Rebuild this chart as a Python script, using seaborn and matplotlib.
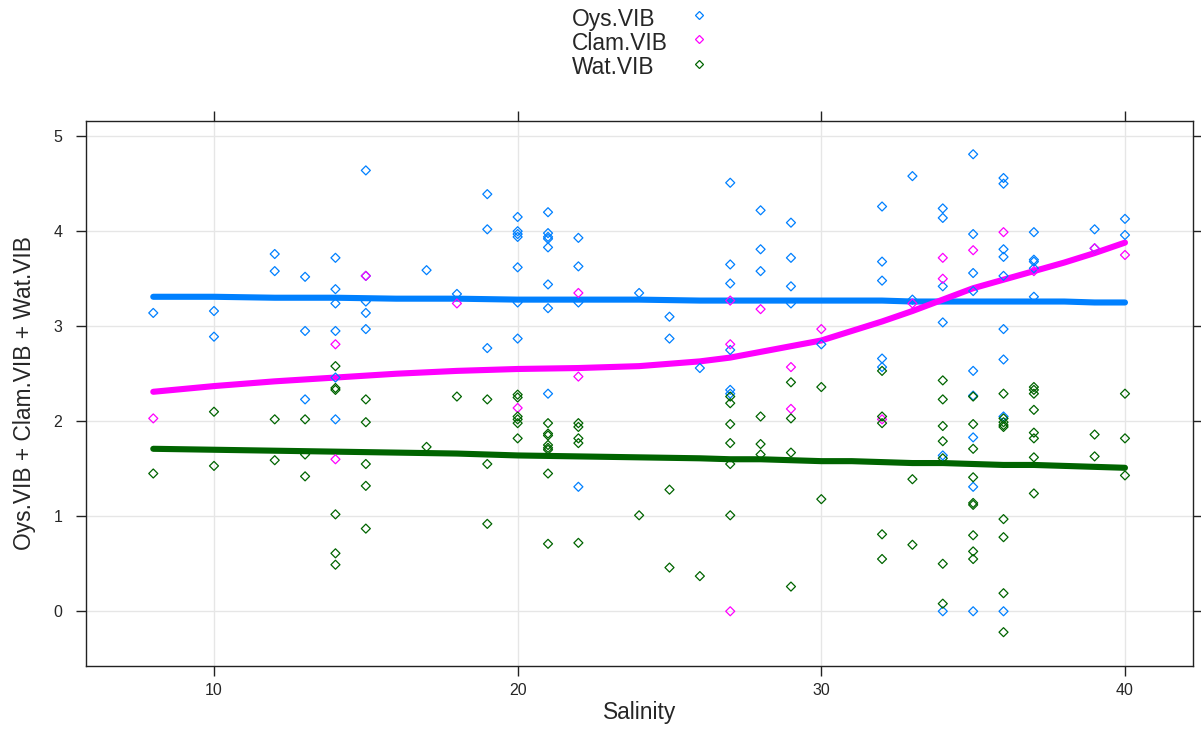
import pandas as pd
import numpy as np
import seaborn as sns
import matplotlib.pyplot as plt
from matplotlib.lines import Line2D

# salinity / value pairs
oys_sal = [8, 10, 10, 12, 12, 13, 13, 13, 14, 14, 14, 14, 14, 14, 15, 15, 15, 15, 15,
           17, 18, 19, 19, 19, 20, 20, 20, 20, 20, 20, 20, 21, 21, 21, 21, 21, 21, 21, 21,
           22, 22, 22, 22, 24, 25, 25, 26, 27, 27, 27, 27, 27, 27, 28, 28, 28, 29, 29, 29, 29,
           30, 32, 32, 32, 32, 32, 33, 33, 34, 34, 34, 34, 34, 34,
           35, 35, 35, 35, 35, 35, 35, 35, 35, 36, 36, 36, 36, 36, 36, 36, 36, 36,
           37, 37, 37, 37, 37, 39, 39, 40, 40]
oys_vib = [3.14, 3.16, 2.89, 3.76, 3.58, 3.52, 2.95, 2.23, 3.72, 3.39, 3.24, 2.95, 2.46, 2.02,
           4.64, 3.53, 3.26, 3.14, 2.97, 3.59, 3.34, 4.39, 4.02, 2.77,
           4.15, 4.00, 3.97, 3.94, 3.62, 3.25, 2.87, 4.20, 3.98, 3.94, 3.92, 3.83, 3.44, 3.19, 2.29,
           3.93, 3.63, 3.25, 1.31, 3.35, 3.10, 2.87, 2.56, 4.51, 3.65, 3.45, 2.75, 2.33, 2.29,
           4.22, 3.81, 3.58, 4.09, 3.72, 3.42, 3.24, 2.81, 4.26, 3.68, 3.48, 2.66, 2.57, 4.58, 3.28,
           4.24, 4.14, 3.42, 3.04, 1.64, 0.00,
           4.81, 3.97, 3.56, 3.37, 2.53, 2.27, 1.83, 1.31, 0.00,
           4.56, 4.50, 3.81, 3.73, 3.53, 2.97, 2.65, 2.05, 0.00,
           3.99, 3.70, 3.68, 3.61, 3.31, 4.02, 3.82, 4.13, 3.96]

clam_sal = [8, 14, 14, 15, 18, 20, 22, 22, 27, 27, 27, 28, 29, 29, 30, 32, 33, 34, 34,
            35, 36, 37, 39, 40]
clam_vib = [2.03, 2.81, 1.60, 3.53, 3.24, 2.14, 3.35, 2.47, 3.27, 2.81, 0.00, 3.18, 2.57, 2.13,
            2.97, 2.02, 3.24, 3.72, 3.50, 3.80, 3.99, 3.58, 3.82, 3.75]

wat_sal = [8, 10, 10, 12, 12, 13, 13, 13, 14, 14, 14, 14, 14, 14, 15, 15, 15, 15, 15,
           17, 18, 19, 19, 19, 20, 20, 20, 20, 20, 20, 21, 21, 21, 21, 21, 21, 21, 21,
           22, 22, 22, 22, 22, 24, 25, 25, 26, 27, 27, 27, 27, 27, 27, 28, 28, 28,
           29, 29, 29, 29, 30, 30, 32, 32, 32, 32, 32, 33, 33,
           34, 34, 34, 34, 34, 34, 34, 35, 35, 35, 35, 35, 35, 35, 35, 35,
           36, 36, 36, 36, 36, 36, 36, 36, 36, 37, 37, 37, 37, 37, 37, 37, 37,
           39, 39, 40, 40, 40]
wat_vib = [1.45, 2.10, 1.53, 2.02, 1.59, 2.02, 1.65, 1.42, 2.58, 2.35, 2.33, 1.02, 0.61, 0.49,
           2.23, 1.99, 1.55, 1.32, 0.87, 1.73, 2.26, 2.23, 1.55, 0.92,
           2.28, 2.25, 2.05, 2.02, 1.98, 1.82, 1.98, 1.87, 1.85, 1.75, 1.72, 1.70, 1.45, 0.71,
           1.98, 1.94, 1.82, 1.77, 0.72, 1.01, 1.28, 0.46, 0.37, 2.26, 2.19, 1.97, 1.77, 1.55, 1.01,
           2.05, 1.76, 1.65, 2.41, 2.03, 1.67, 0.26, 2.36, 1.18, 2.53, 2.05, 1.98, 0.81, 0.55,
           1.39, 0.70, 2.43, 2.23, 1.95, 1.79, 1.61, 0.50, 0.08,
           2.26, 1.97, 1.71, 1.41, 1.14, 1.12, 0.80, 0.63, 0.55,
           2.29, 2.03, 1.99, 1.96, 1.94, 0.97, 0.78, 0.19, -0.22,
           2.36, 2.33, 2.29, 2.12, 1.88, 1.82, 1.62, 1.24, 1.86, 1.63, 2.29, 1.82, 1.43]

# smoothed curves
smooth_sal = [8, 10, 12, 14, 16, 18, 20, 22, 24, 26, 27, 28, 29, 30, 31, 32, 33, 34, 35, 36, 37, 38, 39, 40]
oys_smooth = [3.31, 3.31, 3.30, 3.30, 3.29, 3.29, 3.28, 3.28, 3.28, 3.27, 3.27, 3.27, 3.27, 3.27,
              3.27, 3.27, 3.26, 3.26, 3.26, 3.26, 3.26, 3.26, 3.25, 3.25]
clam_smooth = [2.31, 2.37, 2.42, 2.46, 2.50, 2.53, 2.55, 2.56, 2.58, 2.63, 2.67, 2.73, 2.79, 2.85,
               2.95, 3.05, 3.16, 3.28, 3.40, 3.49, 3.58, 3.67, 3.77, 3.88]
wat_smooth = [1.71, 1.70, 1.69, 1.68, 1.67, 1.66, 1.64, 1.63, 1.62, 1.61, 1.60, 1.60, 1.59, 1.58,
              1.58, 1.57, 1.56, 1.56, 1.55, 1.54, 1.54, 1.53, 1.52, 1.51]

groups = ["Oys.VIB", "Clam.VIB", "Wat.VIB"]
colors = ["#0080ff", "#ff00ff", "#006400"]

pts = pd.concat([
    pd.DataFrame({"Salinity": oys_sal, "value": oys_vib, "group": "Oys.VIB"}),
    pd.DataFrame({"Salinity": clam_sal, "value": clam_vib, "group": "Clam.VIB"}),
    pd.DataFrame({"Salinity": wat_sal, "value": wat_vib, "group": "Wat.VIB"}),
])
smooth = pd.concat([
    pd.DataFrame({"Salinity": smooth_sal, "value": oys_smooth, "group": "Oys.VIB"}),
    pd.DataFrame({"Salinity": smooth_sal, "value": clam_smooth, "group": "Clam.VIB"}),
    pd.DataFrame({"Salinity": smooth_sal, "value": wat_smooth, "group": "Wat.VIB"}),
])

sns.set_style("white")
plt.rcParams['font.family'] = ['Liberation Sans', 'DejaVu Sans']

W, H = 1201, 756
fig = plt.figure(figsize=(W / 100, H / 100), dpi=100)
ax_l, ax_r, ax_t, ax_b = 86, 1193, 121, 666
ax = fig.add_axes([ax_l / W, 1 - ax_b / H, (ax_r - ax_l) / W, (ax_b - ax_t) / H])

sns.lineplot(data=smooth, x="Salinity", y="value", hue="group", hue_order=groups,
             palette=colors, linewidth=4.4, legend=False, ax=ax, zorder=2)
for g, c in zip(groups, colors):
    sub = pts[pts["group"] == g]
    sns.scatterplot(data=sub, x="Salinity", y="value", marker="D", s=21,
                    color=c, linewidth=0.9, ax=ax, zorder=3)
    coll = ax.collections[-1]
    coll.set_facecolor("none")
    coll.set_edgecolor(c)

ax.set_xlim(5.785, 42.24)
ax.set_ylim(-0.576, 5.16)
ax.set_xticks([10, 20, 30, 40])
ax.set_yticks([0, 1, 2, 3, 4, 5])
ax.grid(True, color="#e6e6e6", linewidth=1)
ax.set_axisbelow(True)
for sp in ax.spines.values():
    sp.set_color("#222222")
    sp.set_linewidth(1)
ax.tick_params(direction="out", length=7, width=1, color="#222222", labelsize=11.5,
               top=True, right=True, labeltop=False, labelright=False, left=True, bottom=True)
ax.tick_params(axis="x", pad=5)
ax.tick_params(axis="y", pad=10)
ax.set_xlabel("Salinity", fontsize=16.4)
ax.set_ylabel("Oys.VIB + Clam.VIB + Wat.VIB", fontsize=16.4)
ax.xaxis.set_label_coords(0.5, (ax_b - 701) / (ax_b - ax_t))
ax.yaxis.set_label_coords((36 - ax_l) / (ax_r - ax_l), 0.5)

# key above the panel: text then symbol, as lattice draws it
for i, (g, c) in enumerate(zip(groups, colors)):
    fig.text(572 / W, 1 - (26 + 24 * i) / H, g, fontsize=16.4, ha="left", va="baseline")
    fig.add_artist(Line2D([699 / W], [1 - (15 + 24.3 * i) / H], transform=fig.transFigure,
                          marker="D", markersize=4.4, linestyle="none", markerfacecolor="none",
                          markeredgecolor=c, markeredgewidth=0.9))

fig.savefig("out.png", dpi=100)
